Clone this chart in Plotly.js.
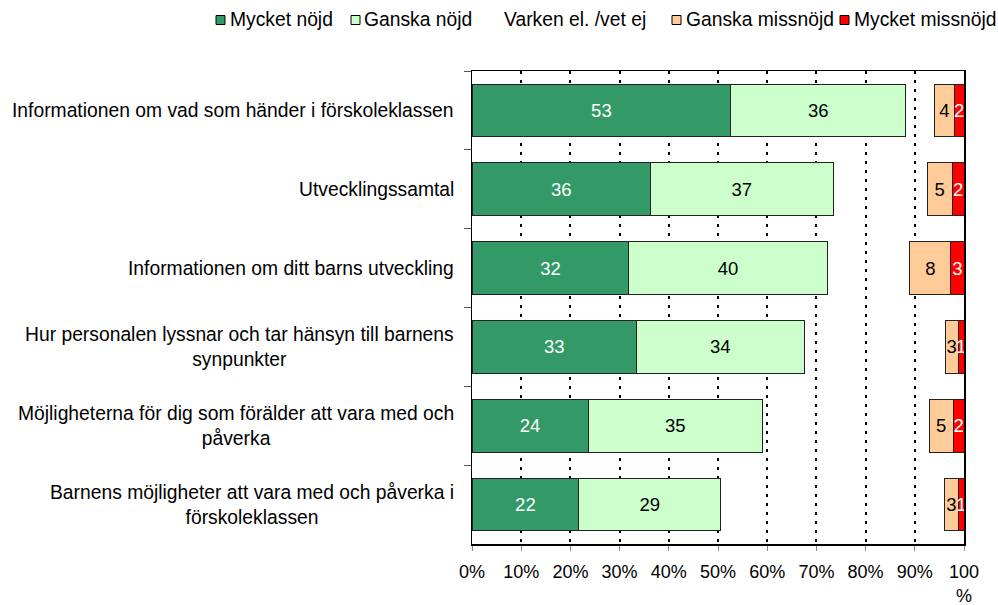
<!DOCTYPE html>
<html>
<head>
<meta charset="utf-8">
<script src="https://cdn.plot.ly/plotly-3.0.1.min.js"></script>
<style>html,body{margin:0;padding:0;background:#fff;}#chart{width:998px;height:605px;}</style>
</head>
<body>
<div id="chart"></div>
<script>
const categories = [
  "Informationen om vad som händer i förskoleklassen",
  "Utvecklingssamtal",
  "Informationen om ditt barns utveckling",
  "Hur personalen lyssnar och tar hänsyn till barnens<br>synpunkter",
  "Möjligheterna för dig som förälder att vara med och<br>påverka",
  "Barnens möjligheter att vara med och påverka i<br>förskoleklassen"
];
const seriesNames = ["Mycket nöjd", "Ganska nöjd", "Varken el. /vet ej", "Ganska missnöjd", "Mycket missnöjd"];
const mycketNojd   = [52.6, 36.3, 31.9, 33.4, 23.6, 21.7];
const ganskaNojd   = [35.6, 37.1, 40.3, 34.1, 35.4, 28.9];
const varken       = [5.8, 19.1, 16.8, 28.7, 33.9, 45.4];
const ganskaMiss   = [4.0, 5.1, 8.3, 2.6, 4.9, 2.9];
const mycketMiss   = [2.0, 2.4, 2.7, 1.2, 2.2, 1.1];
const tickVals  = [0, 10, 20, 30, 40, 50, 60, 70, 80, 90, 100];
const tickTexts = ["0%", "10%", "20%", "30%", "40%", "50%", "60%", "70%", "80%", "90%", "100<br>%"];

const FONT = "Liberation Sans, Arial, sans-serif";
const seriesValues = [mycketNojd, ganskaNojd, varken, ganskaMiss, mycketMiss];
const fills = ["#339966", "#CCFFCC", "rgba(0,0,0,0)", "#FFCC99", "#FF0000"];
const textColors = ["#ffffff", "#000000", "#000000", "#000000", "#ffffff"];

// plot area geometry (pixels)
const W = 998, H = 605, L = 472, R = 34, T = 71, B = 61;
const PW = W - L - R, PH = H - T - B;
const px2x = p => (p - L) / PW;
const py2y = p => 1 - (p - T) / PH;

const traces = seriesValues.map((vals, i) => ({
  type: "bar",
  orientation: "h",
  name: seriesNames[i],
  y: categories,
  x: vals,
  marker: {
    color: fills[i],
    line: {color: i === 2 ? "rgba(0,0,0,0)" : "#222222", width: i === 2 ? 0 : 1}
  },
  texttemplate: i === 2 ? "" : "%{x:.0f}",
  textposition: "inside",
  insidetextanchor: "middle",
  textangle: 0,
  constraintext: "none",
  textfont: {family: FONT, size: 18.5, color: textColors[i]},
  hoverinfo: "skip",
  showlegend: false
}));

const annotations = categories.map(c => ({
  xref: "paper", yref: "y",
  x: 0, y: c,
  xanchor: "right", yanchor: "middle",
  xshift: -16,
  text: c,
  align: "center",
  showarrow: false,
  font: {family: FONT, size: 19.3, color: "#000"}
}));

// manual legend (one row, as in the reference)
const legendSquareLeft = [216, 351, null, 672, 840];
const legendTextLeft   = [228, 362, 502, 684, 852];
const legendY = 20;
const shapes = [];
seriesNames.forEach((n, i) => {
  if (legendSquareLeft[i] !== null) {
    shapes.push({
      type: "rect", xref: "paper", yref: "paper",
      x0: px2x(legendSquareLeft[i]), x1: px2x(legendSquareLeft[i] + 9),
      y0: py2y(legendY - 4.5), y1: py2y(legendY + 4.5),
      fillcolor: fills[i],
      line: {color: "#000000", width: 1}
    });
  }
  annotations.push({
    xref: "paper", yref: "paper",
    x: px2x(legendTextLeft[i]), y: py2y(legendY),
    xanchor: "left", yanchor: "middle",
    text: n, showarrow: false,
    font: {family: FONT, size: 19.3, color: "#000"}
  });
});

const layout = {
  width: W, height: H,
  margin: {l: L, r: R, t: T, b: B, pad: 0},
  paper_bgcolor: "#ffffff",
  plot_bgcolor: "#ffffff",
  barmode: "stack",
  bargap: 0.33,
  font: {family: FONT, size: 18, color: "#000"},
  showlegend: false,
  xaxis: {
    range: [0, 100],
    tickvals: tickVals,
    ticktext: tickTexts,
    ticks: "outside",
    ticklen: 5,
    tickcolor: "#888888",
    ticklabelstandoff: 6,
    showgrid: true,
    gridcolor: "#000000",
    gridwidth: 2,
    griddash: "3px,6px",
    zeroline: false,
    showline: true,
    linecolor: "#000000",
    linewidth: 1.5,
    mirror: true,
    tickfont: {family: FONT, size: 18, color: "#000"},
    fixedrange: true
  },
  yaxis: {
    autorange: "reversed",
    type: "category",
    showticklabels: false,
    ticks: "outside",
    tickson: "boundaries",
    ticklen: 7,
    tickcolor: "#555555",
    showgrid: false,
    zeroline: false,
    showline: true,
    linecolor: "#000000",
    linewidth: 1.5,
    mirror: true,
    fixedrange: true
  },
  shapes: shapes,
  annotations: annotations
};

Plotly.newPlot("chart", traces, layout, {displayModeBar: false, staticPlot: true});
</script>
</body>
</html>
